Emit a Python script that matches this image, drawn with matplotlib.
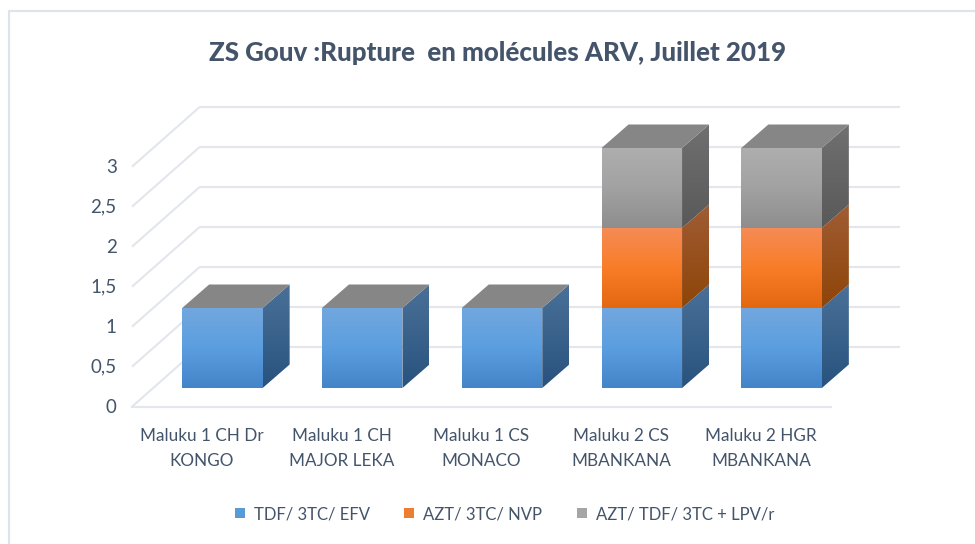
#!/usr/bin/env python3
"""ZS Gouv stock-outs, July 2019: Excel-style fake 3D stacked bars."""
import matplotlib; matplotlib.use("Agg")
import matplotlib.pyplot as plt
from matplotlib.colors import LinearSegmentedColormap
from matplotlib.lines import Line2D
from matplotlib.patches import Patch, Polygon
from matplotlib.transforms import ScaledTranslation
import numpy as np

categories=["Maluku 1 CH Dr\nKONGO","Maluku 1 CH\nMAJOR LEKA","Maluku 1 CS\nMONACO",
            "Maluku 2 CS\nMBANKANA","Maluku 2 HGR\nMBANKANA"]
series_names=["TDF/ 3TC/ EFV","AZT/ 3TC/ NVP","AZT/ TDF/ 3TC + LPV/r"]
tdf=[1,1,1,1,1]
azt_nvp=[0,0,0,1,1]
azt_lpv=[0,0,0,1,1]
y_ticks=[0,0.5,1,1.5,2,2.5,3]
y_labels=["0","0,5","1","1,5","2","2,5","3"]
title="ZS Gouv :Rupture  en molécules ARV, Juillet 2019"

W,H=975,544
INK="#44546a"; GRID="#e3e6ec"; TOP="#868686"; FRAME="#dfe4ea"
FRONT=[("#72a7de","#5b9ee0","#4484c8"),("#f58b55","#f97d28","#e46810"),("#aeaeae","#a2a2a2","#8e8e8e")]
SIDE=[("#4a7098","#28537e"),("#a05c34","#8e4508"),("#707070","#595959")]
LEG=["#5b9bd5","#ed7d31","#a5a5a5"]

# pixels per data unit, the depth offsets below are in data units
PX=139.8; PY=80.0
WALL_DX=68/PX; WALL_DY=60/PY      # depth of the whole floor
IN_DX=20.5/PX; IN_DY=18.7/PY      # bars sit this far back from the front edge
BAR_W=80.5/PX; BAR_DX=27/PX; BAR_DY=23.5/PY

fig=plt.figure(figsize=(W/100,H/100),dpi=100,facecolor="white")
plt.rcParams["font.family"]=["Lato","DejaVu Sans"]
L,R,T,B=132,900,107,406.7
ax=fig.add_axes([L/W,1-B/H,(R-L)/W,(B-T)/H])
xlim=(-0.5,-0.5+(R-L)/PX); ylim=(0,(B-T)/PY)
ax.patch.set_visible(False)
for s in ax.spines.values(): s.set_visible(False)

# floor and back wall grid
for v in y_ticks:
    ax.plot([-0.5,-0.5+WALL_DX],[v,v+WALL_DY],color=GRID,lw=1.5,zorder=1,clip_on=False,solid_capstyle="butt")
    ax.plot([-0.5+WALL_DX,xlim[1]],[v+WALL_DY,v+WALL_DY],color=GRID,lw=1.5,zorder=1,clip_on=False,solid_capstyle="butt")
ax.plot([-0.5,4.5],[0,0],color=GRID,lw=1.5,zorder=1,clip_on=False)

def grad(colors,xs,ys,z):
    """vertical gradient clipped to a polygon"""
    poly=Polygon(list(zip(xs,ys)),closed=True,fc="none",ec="none",transform=ax.transData)
    ax.add_patch(poly)
    cm=LinearSegmentedColormap.from_list("g",colors)
    im=ax.imshow(np.linspace(0,1,64)[:,None],cmap=cm,aspect="auto",origin="upper",zorder=z,
                 extent=(min(xs),max(xs),min(ys),max(ys)),interpolation="bilinear")
    im.set_clip_path(poly)

for i in range(len(categories)):
    x0=i-BAR_W/2+IN_DX; x1=x0+BAR_W
    base=IN_DY
    for k,vals in enumerate((tdf,azt_nvp,azt_lpv)):
        v=vals[i]
        if not v: continue
        grad(FRONT[k],[x0,x1,x1,x0],[base,base,base+v,base+v],4)
        grad(SIDE[k],[x1,x1+BAR_DX,x1+BAR_DX,x1],[base,base+BAR_DY,base+v+BAR_DY,base+v],3)
        base+=v
    ax.add_patch(Polygon([(x0,base),(x1,base),(x1+BAR_DX,base+BAR_DY),(x0+BAR_DX,base+BAR_DY)],
                         fc=TOP,ec="none",zorder=3))

ax.set_xlim(*xlim); ax.set_ylim(*ylim)
ax.set_xticks(range(len(categories))); ax.set_xticklabels(categories,fontsize=12.3,color=INK,linespacing=1.75)
ax.set_yticks(y_ticks); ax.set_yticklabels(y_labels,fontsize=13.5,color=INK)
ax.tick_params(axis="x",length=0,pad=15)
ax.tick_params(axis="y",length=0,pad=11)
shift=ScaledTranslation(0,1/100,fig.dpi_scale_trans)
for lab in ax.get_yticklabels(): lab.set_transform(lab.get_transform()+shift)

fig.text(498/W,1-53/H,title,ha="center",va="center",fontsize=18.6,fontweight="black",color=INK)
handles=[Patch(fc=c,ec="none") for c in LEG]
fig.legend(handles,series_names,loc="center",bbox_to_anchor=(504.5/W,1-514/H),ncols=3,frameon=False,
           fontsize=12,labelcolor=INK,handlelength=0.6,handleheight=0.6,handletextpad=0.55,columnspacing=2.05,
           borderpad=0,borderaxespad=0)
# chart frame: top and left edges only reach the picture
fig.add_artist(Line2D([9/W,9/W,1],[0,1-11/H,1-11/H],transform=fig.transFigure,color=FRAME,lw=1.6))
fig.savefig("out.png",dpi=100,facecolor="white")
